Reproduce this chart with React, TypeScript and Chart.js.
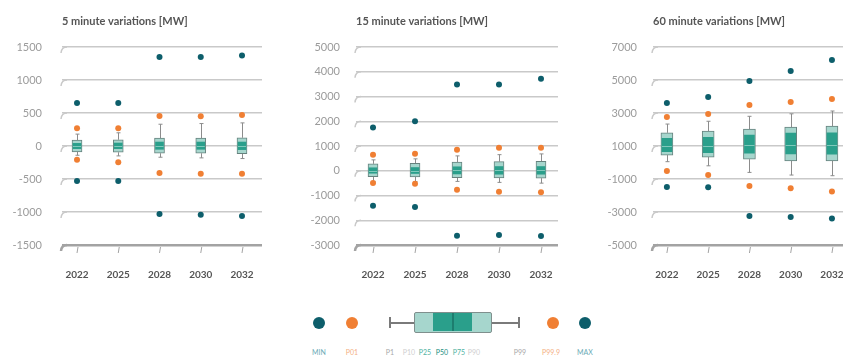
import React, { useEffect, useRef } from 'react';
import { Chart, registerables } from 'chart.js';
Chart.register(...registerables);

const years = ['2022', '2025', '2028', '2030', '2032'];

// 5 minute variations [MW]
const min5 = [-530, -530, -1030, -1040, -1060];
const p01_5 = [-210, -245, -410, -420, -420];
const p1_5 = [-140, -150, -170, -180, -190];
const p10_5 = [-90, -95, -110, -110, -115];
const p25_5 = [-40, -40, -50, -50, -55];
const p50_5 = [0, 0, 0, 0, 0];
const p75_5 = [40, 45, 60, 60, 60];
const p90_5 = [90, 95, 120, 120, 125];
const p99_5 = [180, 200, 330, 340, 350];
const p999_5 = [270, 270, 455, 450, 470];
const max5 = [650, 650, 1350, 1350, 1370];

// 15 minute variations [MW]
const min15 = [-1410, -1460, -2630, -2600, -2640];
const p01_15 = [-490, -530, -770, -850, -870];
const p1_15 = [-430, -440, -430, -470, -500];
const p10_15 = [-240, -250, -280, -290, -300];
const p25_15 = [-100, -110, -130, -140, -140];
const p50_15 = [0, 0, 20, 20, 20];
const p75_15 = [120, 130, 160, 170, 170];
const p90_15 = [280, 300, 350, 370, 380];
const p99_15 = [440, 480, 600, 650, 680];
const p999_15 = [650, 690, 850, 930, 930];
const max15 = [1750, 2000, 3480, 3480, 3720];

// 60 minute variations [MW]
const min60 = [-1480, -1500, -3240, -3300, -3400];
const p01_60 = [-515, -760, -1420, -1560, -1760];
const p1_60 = [50, -200, -600, -760, -800];
const p10_60 = [450, 330, 200, 100, 100];
const p25_60 = [650, 600, 570, 520, 500];
const p50_60 = [1000, 1000, 1050, 1050, 1050];
const p75_60 = [1470, 1520, 1660, 1790, 1800];
const p90_60 = [1800, 1900, 2030, 2150, 2200];
const p99_60 = [2330, 2500, 2800, 2950, 3120];
const p999_60 = [2760, 2940, 3480, 3670, 3850];
const max60 = [3600, 3970, 4940, 5550, 6210];

const titles = ['5 minute variations [MW]', '15 minute variations [MW]', '60 minute variations [MW]'];

const C_MAX = '#0d5e6b';
const C_P01 = '#f07f33';
const C_LIGHT = '#a6d6cd';
const C_DARK = '#2a9f8b';
const C_BORDER = '#66827e';
const C_WHISK = '#8c8c8c';
const C_GRID = '#c9c9c9';
const C_AXIS = '#a3a3a3';

type Stats = {
  min: number[]; p01: number[]; p1: number[]; p10: number[]; p25: number[]; p50: number[];
  p75: number[]; p90: number[]; p99: number[]; p999: number[]; max: number[];
};

type Panel = {
  title: string; stats: Stats;
  left: number; width: number; height: number; axisW: number; labelPad: number; padRight: number;
  xMin: number; xMax: number; yMin: number; yMax: number; yStep: number; boxW: number;
};

const panels: Panel[] = [
  {
    title: titles[0],
    stats: { min: min5, p01: p01_5, p1: p1_5, p10: p10_5, p25: p25_5, p50: p50_5, p75: p75_5, p90: p90_5, p99: p99_5, p999: p999_5, max: max5 },
    left: 0, width: 280, height: 290, axisW: 62, labelPad: 20, padRight: 18,
    xMin: -0.364, xMax: 4.485, yMin: -1500, yMax: 1500, yStep: 500, boxW: 10,
  },
  {
    title: titles[1],
    stats: { min: min15, p01: p01_15, p1: p1_15, p10: p10_15, p25: p25_15, p50: p50_15, p75: p75_15, p90: p90_15, p99: p99_15, p999: p999_15, max: max15 },
    left: 280, width: 290, height: 290, axisW: 76, labelPad: 16, padRight: 12,
    xMin: -0.405, xMax: 4.405, yMin: -3000, yMax: 5000, yStep: 1000, boxW: 10,
  },
  {
    title: titles[2],
    stats: { min: min60, p01: p01_60, p1: p1_60, p10: p10_60, p25: p25_60, p50: p50_60, p75: p75_60, p90: p90_60, p99: p99_60, p999: p999_60, max: max60 },
    left: 570, width: 290, height: 290, axisW: 83, labelPad: 16, padRight: 0,
    xMin: -0.337, xMax: 4.555, yMin: -5000, yMax: 7000, yStep: 2000, boxW: 12,
  },
];

function makePlugin(p: Panel) {
  const s = p.stats;
  return {
    id: 'boxExtras',
    beforeDatasetsDraw(chart: any) {
      const { ctx, scales, chartArea } = chart;
      const x = scales.x, y = scales.y;
      ctx.save();
      y.ticks.forEach((t: any, idx: number) => {
        const py = y.getPixelForValue(t.value);
        ctx.strokeStyle = idx === 0 ? C_AXIS : C_GRID;
        ctx.lineWidth = idx === 0 ? 2.5 : 1.5;
        ctx.beginPath();
        ctx.moveTo(chartArea.left - 1, py + 6);
        ctx.quadraticCurveTo(chartArea.left - 0.5, py, chartArea.left + 5, py);
        ctx.stroke();
      });
      ctx.strokeStyle = C_AXIS;
      ctx.lineWidth = 1;
      const by = chartArea.bottom;
      years.forEach((_, i) => {
        const cx = x.getPixelForValue(i);
        ctx.beginPath();
        ctx.moveTo(cx + 1, by + 2);
        ctx.lineTo(cx, by + 8);
        ctx.stroke();
      });
      ctx.strokeStyle = C_WHISK;
      ctx.lineWidth = 1;
      years.forEach((_, i) => {
        const cx = Math.round(x.getPixelForValue(i)) + 0.5;
        const y1 = y.getPixelForValue(s.p1[i]);
        const y10 = y.getPixelForValue(s.p10[i]);
        const y90 = y.getPixelForValue(s.p90[i]);
        const y99 = y.getPixelForValue(s.p99[i]);
        ctx.beginPath();
        ctx.moveTo(cx, y99); ctx.lineTo(cx, y90);
        ctx.moveTo(cx, y10); ctx.lineTo(cx, y1);
        ctx.moveTo(cx - 2, y99); ctx.lineTo(cx + 2, y99);
        ctx.moveTo(cx - 2, y1); ctx.lineTo(cx + 2, y1);
        ctx.stroke();
      });
      ctx.restore();
    },
    afterDatasetsDraw(chart: any) {
      const { ctx, scales } = chart;
      const x = scales.x, y = scales.y;
      ctx.save();
      ctx.strokeStyle = '#7fc9bb';
      ctx.lineWidth = 1;
      years.forEach((_, i) => {
        const cx = x.getPixelForValue(i);
        const py = Math.round(y.getPixelForValue(s.p50[i])) + 0.5;
        ctx.beginPath();
        ctx.moveTo(cx - p.boxW / 2 + 1, py);
        ctx.lineTo(cx + p.boxW / 2 - 1, py);
        ctx.stroke();
      });
      ctx.restore();
    },
    afterDraw(chart: any) {
      const { ctx, chartArea } = chart;
      ctx.save();
      ctx.font = 'bold 11px Lato';
      ctx.fillStyle = '#555555';
      ctx.textBaseline = 'middle';
      ctx.textAlign = 'left';
      ctx.fillText(p.title, chartArea.left, 21);
      ctx.restore();
    },
  };
}

function BoxChart({ p }: { p: Panel }) {
  const ref = useRef<HTMLCanvasElement>(null);
  useEffect(() => {
    const s = p.stats;
    const dots = (label: string, vals: number[], color: string) => ({
      type: 'scatter', label, order: 0,
      data: years.map((_, i) => ({ x: i, y: vals[i] })),
      backgroundColor: color, pointRadius: 3, pointBorderWidth: 0,
    });
    const chart = new Chart(ref.current as HTMLCanvasElement, {
      type: 'bar',
      data: {
        datasets: [
          dots('MAX', s.max, C_MAX),
          dots('MIN', s.min, C_MAX),
          dots('P99.9', s.p999, C_P01),
          dots('P01', s.p01, C_P01),
          {
            type: 'bar', label: 'P25-P75', order: 1,
            data: years.map((_, i) => ({ x: i, y: [s.p25[i], s.p75[i]] })),
            backgroundColor: C_DARK, borderWidth: 0,
            barThickness: p.boxW - 2, grouped: false,
          },
          {
            type: 'bar', label: 'P10-P90', order: 2,
            data: years.map((_, i) => ({ x: i, y: [s.p10[i], s.p90[i]] })),
            backgroundColor: C_LIGHT, borderColor: C_BORDER, borderWidth: 1, borderSkipped: false,
            barThickness: p.boxW, grouped: false,
          },
        ] as any,
      },
      options: {
        animation: false,
        responsive: false,
        layout: { padding: { left: 0, right: p.padRight, top: 47, bottom: 0 } },
        plugins: { legend: { display: false }, tooltip: { enabled: false }, title: { display: false } },
        scales: {
          x: {
            type: 'linear', min: p.xMin, max: p.xMax, offset: false,
            grid: { display: false }, border: { display: false },
            afterBuildTicks: (sc: any) => { sc.ticks = years.map((_, i) => ({ value: i })); },
            afterFit: (sc: any) => { sc.height = p.height - 245; },
            ticks: {
              autoSkip: false, maxRotation: 0, padding: 16,
              callback: (v: any) => years[v as number] ?? '',
              font: { family: 'Lato', size: 10, weight: 'bold' }, color: '#555555',
            },
          },
          y: {
            type: 'linear', min: p.yMin, max: p.yMax,
            afterFit: (sc: any) => { sc.width = p.axisW; },
            border: { display: false },
            grid: {
              drawTicks: false,
              color: (c: any) => (c.index === 0 ? C_AXIS : C_GRID),
              lineWidth: (c: any) => (c.index === 0 ? 2.5 : 1.5),
            },
            ticks: {
              stepSize: p.yStep, padding: p.labelPad,
              callback: (v: any) => String(v),
              font: { family: 'Lato', size: 11 }, color: '#9b9b9b',
            },
          },
        },
      } as any,
      plugins: [makePlugin(p)],
    });
    return () => chart.destroy();
  }, [p]);
  return (
    <div style={{ position: 'absolute', left: p.left, top: 0, width: p.width, height: p.height }}>
      <canvas ref={ref} width={p.width} height={p.height} style={{ width: p.width, height: p.height, display: 'block' }} />
    </div>
  );
}

const legendItems: { label: string; x: number; color: string }[] = [
  { label: 'MIN', x: 319, color: '#6aaab6' },
  { label: 'P01', x: 352, color: '#f4b084' },
  { label: 'P1', x: 390, color: '#a8a8a8' },
  { label: 'P10', x: 409, color: '#cfcfcf' },
  { label: 'P25', x: 425, color: '#4fb2a2' },
  { label: 'P50', x: 442, color: '#1c8f7f' },
  { label: 'P75', x: 459, color: '#4fb2a2' },
  { label: 'P90', x: 474, color: '#cfcfcf' },
  { label: 'P99', x: 520, color: '#a8a8a8' },
  { label: 'P99.9', x: 551, color: '#f4b084' },
  { label: 'MAX', x: 585, color: '#6aaab6' },
];

function Legend() {
  const dot = (x: number, c: string) => (
    <div style={{ position: 'absolute', left: x - 6, top: 317, width: 12, height: 12, borderRadius: 6, background: c }} />
  );
  return (
    <>
      {dot(319, C_MAX)}
      {dot(352, C_P01)}
      {dot(553, C_P01)}
      {dot(585, C_MAX)}
      <div style={{ position: 'absolute', left: 390, top: 322, width: 129, height: 1.5, background: '#7a7a7a' }} />
      <div style={{ position: 'absolute', left: 389, top: 317, width: 1.5, height: 11, background: '#7a7a7a' }} />
      <div style={{ position: 'absolute', left: 518, top: 317, width: 1.5, height: 11, background: '#7a7a7a' }} />
      <div style={{ position: 'absolute', left: 414, top: 312, width: 78, height: 21, boxSizing: 'border-box', border: '1.5px solid #7f8f8d', borderRadius: 2, background: C_LIGHT, overflow: 'hidden' }}>
        <div style={{ position: 'absolute', left: 18, top: 0, width: 39, height: 18, background: C_DARK }} />
        <div style={{ position: 'absolute', left: 37, top: 0, width: 1.5, height: 18, background: '#1d7d6f' }} />
      </div>
      {legendItems.map((it) => (
        <span key={it.label} style={{ position: 'absolute', left: it.x - 20, width: 40, top: 347, textAlign: 'center', fontFamily: 'Lato', fontSize: 7, color: it.color, whiteSpace: 'nowrap', lineHeight: '10px' }}>
          {it.label}
        </span>
      ))}
    </>
  );
}

export default function App() {
  return (
    <div style={{ position: 'absolute', left: 0, top: 0, width: 843, height: 362, overflow: 'hidden', background: '#ffffff' }}>
      {panels.map((p) => <BoxChart key={p.title} p={p} />)}
      <Legend />
    </div>
  );
}
